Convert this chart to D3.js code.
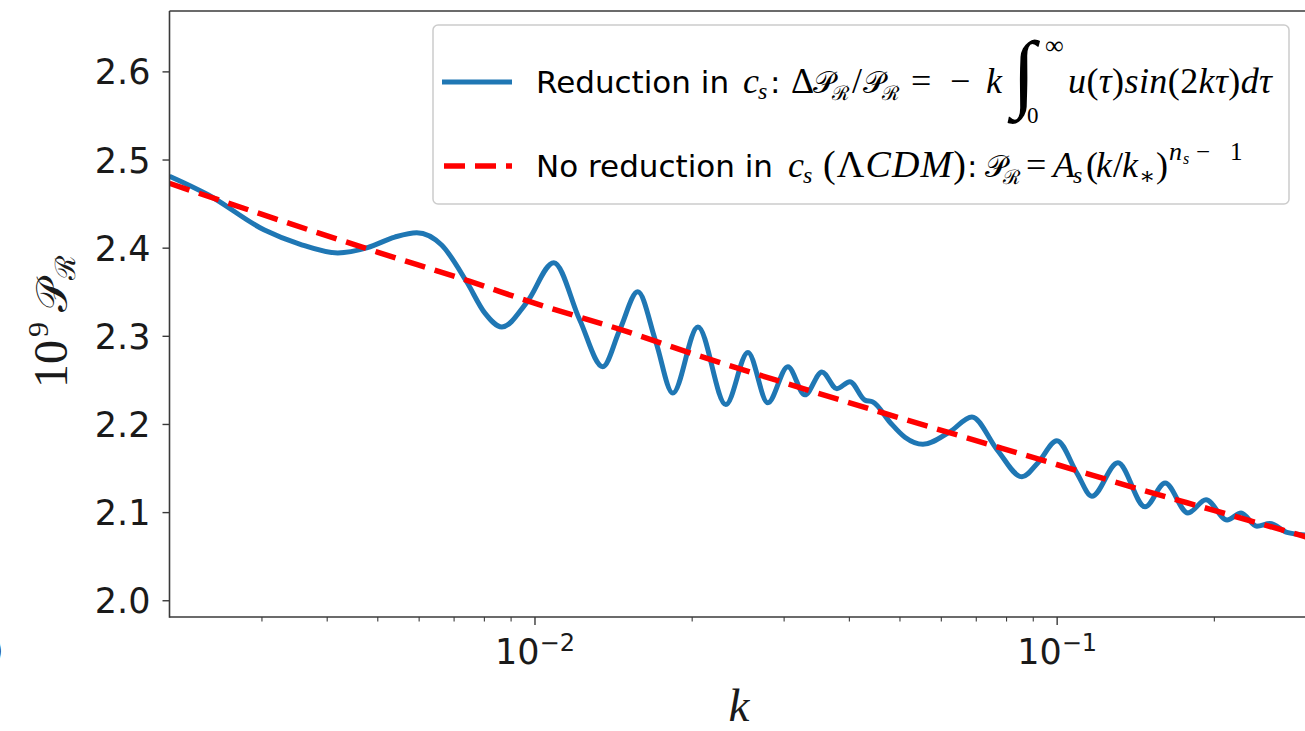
<!DOCTYPE html>
<html><head><meta charset="utf-8">
<script src="https://cdn.jsdelivr.net/npm/d3@7"></script>
<style>html,body{margin:0;padding:0;background:#fff;overflow:hidden}</style>
</head><body>
<svg id="chart" width="1305" height="731"></svg>
<script>
// ---------- data ----------
const K_BLUE = [0.002, 0.00237, 0.00304, 0.00355, 0.0042, 0.00479, 0.0054, 0.00595, 0.00664, 0.00742,
  0.00803, 0.00866, 0.00967, 0.01089, 0.01221, 0.01351, 0.01457, 0.01577, 0.01708, 0.0184,
  0.02056, 0.02325, 0.02563, 0.02798, 0.03057, 0.03295, 0.03552, 0.03794, 0.04018, 0.04293,
  0.04447, 0.04794, 0.05121, 0.05544, 0.06243, 0.06882, 0.07687, 0.08583, 0.09209, 0.1001,
  0.1094, 0.1168, 0.1310, 0.1477, 0.1613, 0.1784, 0.1932, 0.2120, 0.2255, 0.2418,
  0.2561, 0.2761, 0.3];
const P_BLUE = [2.481, 2.460, 2.420, 2.404, 2.394, 2.400, 2.412, 2.417, 2.403, 2.361,
  2.326, 2.310, 2.338, 2.383, 2.318, 2.265, 2.307, 2.350, 2.293, 2.235,
  2.310, 2.222, 2.281, 2.224, 2.265, 2.233, 2.259, 2.240, 2.248, 2.227,
  2.225, 2.202, 2.185, 2.177, 2.191, 2.208, 2.171, 2.140, 2.156, 2.181,
  2.144, 2.118, 2.156, 2.106, 2.133, 2.099, 2.114, 2.091, 2.099, 2.084,
  2.087, 2.077, 2.074];
const K_LCDM = [0.002, 0.003, 0.005, 0.0075, 0.01, 0.015, 0.02, 0.03, 0.05, 0.075, 0.1, 0.15, 0.2, 0.3];
const P_LCDM = [2.473, 2.438, 2.395, 2.362, 2.337, 2.305, 2.280, 2.247, 2.207, 2.176, 2.154, 2.123, 2.102, 2.072];
const Y_TICKS = [2.0, 2.1, 2.2, 2.3, 2.4, 2.5, 2.6];
const X_MAJOR = [0.01, 0.1];
const X_MAJOR_EXP = ["\u22122", "\u22121"];
const X_MINOR = [0.003, 0.004, 0.005, 0.006, 0.007, 0.008, 0.009,
  0.02, 0.03, 0.04, 0.05, 0.06, 0.07, 0.08, 0.09, 0.2, 0.3];
const X_DOMAIN = [0.002, 0.3];
const Y_DOMAIN = [1.981, 2.6685];

// ---------- layout ----------
const L = 169.5, R = 1305.8, T = 11, B = 617;
const SANS = "'DejaVu Sans', sans-serif";
const MATH = "'Liberation Serif', 'DejaVu Serif', serif";
const BLUE = "#1f77b4", RED = "#ff0000", INK = "#1a1a1a", SPINE = "#3a3a3a";

const svg = d3.select("#chart");
const x = d3.scaleLog().domain(X_DOMAIN).range([L, R]);
const y = d3.scaleLinear().domain(Y_DOMAIN).range([B, T]);

svg.append("defs").append("clipPath").attr("id", "clip")
  .append("rect").attr("x", L).attr("y", T).attr("width", R - L).attr("height", B - T);

// curves
const line = d3.line().x(d => x(d[0])).y(d => y(d[1])).curve(d3.curveMonotoneX);
const plot = svg.append("g").attr("clip-path", "url(#clip)");
plot.append("path").datum(K_BLUE.map((k, i) => [k, P_BLUE[i]]))
  .attr("d", line).attr("fill", "none").attr("stroke", BLUE).attr("stroke-width", 5)
  .attr("stroke-linejoin", "round");
plot.append("path").datum(K_LCDM.map((k, i) => [k, P_LCDM[i]]))
  .attr("d", line).attr("fill", "none").attr("stroke", RED).attr("stroke-width", 5.5)
  .attr("stroke-dasharray", "21,10");

// y axis
const yAx = svg.append("g").attr("transform", `translate(${L},0)`)
  .call(d3.axisLeft(y).tickValues(Y_TICKS).tickFormat(d3.format(".1f")).tickSize(7).tickPadding(12).tickSizeOuter(0));
yAx.select(".domain").remove();
yAx.selectAll(".tick line").attr("stroke", SPINE).attr("stroke-width", 1.4);
yAx.selectAll(".tick text").attr("font-family", SANS).attr("font-size", 35).attr("fill", INK).attr("dy", "0.36em");

// x axis
const xAx = svg.append("g").attr("transform", `translate(0,${B})`)
  .call(d3.axisBottom(x).tickValues(X_MAJOR).tickFormat("").tickSize(8).tickSizeOuter(0));
xAx.select(".domain").remove();
xAx.selectAll(".tick line").attr("stroke", SPINE).attr("stroke-width", 1.4);
xAx.selectAll(".tick text").each(function (d, i) {
  const t = d3.select(this).attr("y", 47).attr("dy", 0)
    .attr("font-family", SANS).attr("font-size", 35).attr("fill", INK).text(null);
  t.append("tspan").text("10");
  t.append("tspan").attr("font-size", 24).attr("dy", -13).text(X_MAJOR_EXP[i]);
});
const xMin = svg.append("g").attr("transform", `translate(0,${B})`)
  .call(d3.axisBottom(x).tickValues(X_MINOR).tickFormat("").tickSize(4.5).tickSizeOuter(0));
xMin.select(".domain").remove();
xMin.selectAll(".tick line").attr("stroke", SPINE).attr("stroke-width", 1.1);

// spines
const sp = svg.append("g").attr("stroke", SPINE).attr("stroke-width", 1.6).attr("fill", "none");
sp.append("line").attr("x1", L).attr("x2", L).attr("y1", T).attr("y2", B + 0.8);
sp.append("line").attr("x1", L).attr("x2", R).attr("y1", B).attr("y2", B);
sp.append("line").attr("x1", L).attr("x2", R).attr("y1", T).attr("y2", T);
sp.append("line").attr("x1", R).attr("x2", R).attr("y1", T).attr("y2", B);

// axis labels
const yl = svg.append("text").attr("transform", "translate(67,388) rotate(-90)")
  .attr("font-family", MATH).attr("font-size", 48).attr("fill", INK);
yl.append("tspan").text("10");
yl.append("tspan").attr("font-size", 30).attr("dy", -19).attr("dx", 3).text("9");
yl.append("tspan").attr("font-size", 44).attr("dy", 19).attr("dx", 10).text("\u{1D4AB}");
yl.append("tspan").attr("font-size", 28).attr("dy", 8).text("\u211B");

svg.append("text").attr("x", 739).attr("y", 721).attr("text-anchor", "middle")
  .attr("font-family", MATH).attr("font-style", "italic").attr("font-size", 47).attr("fill", INK).text("k");

// fragment at the left edge
svg.append("text").attr("x", -10).attr("y", 662).attr("font-family", SANS).attr("font-size", 35)
  .attr("fill", INK).text(")");

// ---------- legend ----------
const lg = svg.append("g");
lg.append("rect").attr("x", 433).attr("y", 25).attr("width", 856).attr("height", 179).attr("rx", 5)
  .attr("fill", "#fff").attr("fill-opacity", 0.8).attr("stroke", "#cccccc").attr("stroke-width", 1.5);
lg.append("line").attr("x1", 442).attr("x2", 512).attr("y1", 82).attr("y2", 82)
  .attr("stroke", BLUE).attr("stroke-width", 5);
lg.append("line").attr("x1", 444).attr("x2", 512).attr("y1", 166).attr("y2", 166)
  .attr("stroke", RED).attr("stroke-width", 5.5).attr("stroke-dasharray", "21,10");

function put(str, px, py, o = {}) {
  const t = lg.append("text").attr("x", px).attr("y", py)
    .attr("font-family", o.sans ? SANS : MATH)
    .attr("font-size", o.size || (o.sans ? 31 : 36))
    .attr("font-style", o.it ? "italic" : "normal")
    .attr("fill", "#000").text(str);
  if (o.len) t.attr("textLength", o.len).attr("lengthAdjust", "spacing");
  return t;
}
function putRich(parts, px, py, o) {
  const t = put("", px, py, o);
  parts.forEach(([s, it]) => t.append("tspan").attr("font-style", it ? "italic" : "normal").text(s));
  return t;
}
// row 1
put("Reduction in", 536, 93, { sans: true });
put("c", 743, 93, { it: true });
put("s", 758, 99, { it: true, size: 24 });
put(":", 770, 93, { sans: true });
put("\u0394", 791, 93);
put("\u{1D4AB}", 813, 93, { size: 30 });
put("\u211B", 832, 100, { size: 20 });
put("/", 852, 93);
put("\u{1D4AB}", 863, 93, { size: 30 });
put("\u211B", 882, 100, { size: 20 });
put("=", 911, 93);
put("\u2212", 950, 93);
put("k", 986, 93, { it: true });
put("\u222B", 1012, 101, { size: 86 });
put("\u221E", 1045, 54, { size: 26 });
put("0", 1027, 123, { size: 23 });
putRich([["u", 1], ["(", 0], ["\u03C4", 1], [")", 0], ["sin", 1], ["(2", 0], ["k\u03C4", 1], [")", 0], ["d\u03C4", 1]],
  1068, 93, { len: 204 });
// row 2
put("No reduction in", 536, 177, { sans: true });
put("c", 788, 177, { it: true });
put("s", 803, 183, { it: true, size: 24 });
putRich([["(", 0], ["\u039B", 0], ["CDM", 1], [")", 0]], 823, 177, { size: 38, len: 143 });
put(":", 967, 177, { sans: true });
put("\u{1D4AB}", 985, 177, { size: 30 });
put("\u211B", 1003, 184, { size: 20 });
put("=", 1026, 177);
put("A", 1053, 177, { it: true });
put("s", 1073, 183, { it: true, size: 24 });
put("(", 1086, 177);
put("k", 1096, 177, { it: true });
put("/", 1113, 177);
put("k", 1122, 177, { it: true });
put("\u2217", 1139, 184, { size: 24 });
put(")", 1156, 177);
put("n", 1169, 160, { it: true, size: 26 });
put("s", 1183, 164, { it: true, size: 16 });
put("\u2212", 1196, 160, { size: 25 });
put("1", 1230, 160, { size: 25 });
</script></body></html>
